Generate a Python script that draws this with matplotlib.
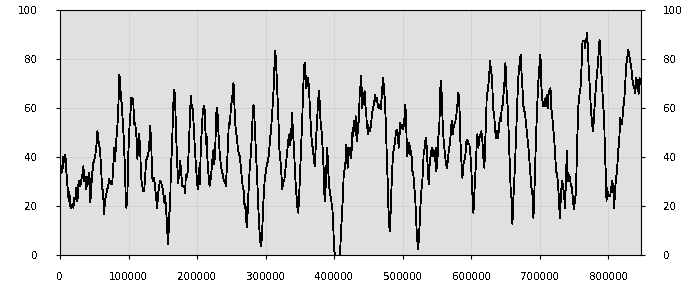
import matplotlib
matplotlib.use("Agg")
import matplotlib.pyplot as plt
import numpy as np

# sample positions (in thousands) and values
x_k = [
    0.0, 1.5, 3.5, 4.9, 6.4, 7.8, 9.3, 11.2, 12.7, 13.7, 14.7, 16.1, 18.1, 19.5,
    21.0, 22.4, 23.9, 25.4, 26.8, 28.3, 29.7, 31.2, 32.7, 34.1, 35.6, 37.0, 38.5,
    40.0, 41.4, 42.9, 44.3, 45.8, 47.3, 48.7, 50.2, 51.6, 53.1, 54.6, 55.5, 57.0,
    58.5, 59.9, 61.4, 62.8, 64.3, 65.8, 67.2, 68.7, 70.1, 71.6, 73.1, 74.5, 76.0,
    77.4, 78.9, 80.4, 81.8, 83.3, 84.7, 85.7, 86.7, 87.7, 88.6, 90.1, 91.5, 93.0,
    94.5, 95.9, 96.9, 98.4, 99.8, 101.3,
    104.2, 105.7, 107.1, 108.1, 109.5, 111.0, 112.0, 113.0, 113.9, 115.4, 116.9,
    118.3, 119.8, 121.2, 122.7, 124.2, 125.6, 127.1, 128.5, 130.0, 131.5, 132.4,
    133.4, 134.4, 135.8, 137.3, 138.8, 140.2, 141.7, 143.1, 144.6, 146.1, 147.5,
    149.0, 150.4, 151.9, 153.4, 154.8, 156.3, 157.2, 158.2, 159.2, 160.7, 161.6,
    163.1, 164.1, 165.0, 166.5, 167.5, 168.4, 169.4, 170.9, 172.3, 173.8, 175.3,
    176.7, 178.2, 179.6, 181.1, 182.6, 183.5, 185.0, 186.4, 187.9, 189.4, 190.8,
    191.8, 192.8, 194.2, 195.7, 197.2, 198.6, 200.1, 201.5, 202.5, 204.0, 205.4,
    208.3, 209.8, 211.3, 212.7, 213.7, 215.2, 216.6, 218.1, 219.5, 221.0, 222.5,
    223.9, 224.9, 226.4, 227.8, 229.3, 230.2, 231.7, 233.2, 234.6, 236.1, 237.5,
    239.0, 240.5, 241.9, 243.4, 244.8, 246.3, 247.8, 249.2, 250.7, 252.1, 253.1,
    254.1, 255.1, 256.5, 258.0, 259.4, 260.9, 262.4, 263.8, 265.3, 266.7, 268.2,
    269.2, 270.6, 272.1, 273.1, 274.0, 275.5, 277.0, 278.4, 279.9, 281.3, 282.3,
    283.3, 284.3, 285.7, 287.2, 288.6, 290.1, 291.6, 293.0, 294.5, 295.9, 297.4,
    298.9, 300.3, 301.8, 303.2, 304.7, 306.2, 307.6, 309.1, 310.5,
    312.0, 313.5, 314.9, 316.4, 317.8, 318.8, 319.8, 321.2, 322.7, 324.2, 325.6,
    327.1, 328.5, 330.0, 331.5, 332.9, 334.4, 335.8, 337.3, 338.3, 339.3, 340.2,
    341.7, 343.2, 344.6, 346.1, 347.5, 349.0, 350.5, 351.9, 353.4, 354.8, 356.3,
    357.3, 358.2, 359.2, 360.7, 362.1, 363.1, 364.6, 366.0, 367.5, 368.9, 370.4,
    371.9, 373.3, 374.8, 376.2, 377.7, 378.7, 380.1, 381.6, 383.1, 384.5, 386.0,
    387.4, 388.9, 389.9, 391.3, 392.8, 394.3, 395.7, 397.2, 398.6, 399.6, 401.1,
    402.5, 406.9, 408.4, 409.3, 410.8, 412.3, 413.7, 415.2, 416.6,
    417.1, 418.6, 419.6, 420.5, 421.5, 422.5, 423.4, 424.9, 425.9, 426.9, 427.8,
    428.8, 430.3, 431.2, 432.2, 433.7, 434.6, 436.1, 437.1, 438.1, 439.0, 440.0,
    441.0, 441.9, 443.4, 444.4, 445.4, 446.8, 447.8, 448.8, 449.7, 450.7, 452.2,
    453.6, 455.1, 456.5, 458.0, 459.5, 460.4, 461.9, 463.4, 464.8, 466.3, 467.7,
    469.2, 470.2, 471.1, 472.1, 473.6, 475.0, 476.0, 477.0, 478.0, 478.9, 479.9,
    480.9, 481.9, 482.8, 484.3, 485.7, 487.2, 488.7, 490.1, 491.6, 493.0, 494.0,
    495.0, 496.0, 497.4, 498.9, 500.3, 501.8, 502.8, 503.8, 504.7, 505.7, 506.7,
    508.1, 509.6, 511.1, 512.5, 514.0, 515.4, 516.9, 518.4, 519.3, 520.8, 521.8,
    522.2, 523.7, 525.2, 526.6, 528.1, 529.5, 530.5, 532.0, 533.4, 534.4, 535.9,
    536.8, 537.8, 538.8, 540.2, 541.7, 543.2, 544.6, 545.6, 546.6, 548.0, 549.0,
    550.5, 551.9, 553.4, 554.9, 555.8, 556.8, 558.3, 559.7, 561.2, 562.6, 564.1,
    565.6, 567.0, 568.5, 569.9, 571.4, 572.9, 573.8, 575.3, 576.8, 578.2, 579.7,
    581.1, 582.1, 583.1, 584.1, 585.0, 586.0, 587.0, 588.4, 589.9, 591.4, 592.8,
    594.3, 595.7, 597.2, 598.7, 600.1, 601.6, 603.0, 604.0, 605.0, 606.4, 607.9,
    608.9, 610.3, 611.8, 613.3, 614.7, 616.2, 617.6, 619.1, 620.1, 621.5, 622.5,
    624.0, 625.4, 626.4,
    627.4, 628.8, 630.3, 631.7, 633.2, 634.7, 635.6, 637.1, 638.6, 640.0, 641.5,
    642.9, 644.4, 645.9, 647.3, 648.8, 649.8, 650.7, 651.7, 653.2, 654.6, 656.1,
    657.5, 659.0, 660.0, 660.9, 662.4, 663.9, 665.3, 666.8, 668.2, 669.7, 671.2,
    672.1, 673.1, 674.6, 676.0, 677.5, 679.0, 680.4, 681.9, 683.3, 684.8, 686.3,
    687.7, 689.2, 690.6, 691.6, 693.1, 694.5, 696.0, 697.4, 698.9, 700.4, 701.3,
    702.3, 703.8, 705.2, 706.7, 708.2, 709.1, 710.1, 711.6, 713.0, 714.5, 715.5,
    716.4, 717.9, 719.3, 720.8, 722.3, 723.7, 725.2, 726.6, 728.1, 729.1, 730.1,
    731.5,
    732.5, 733.9, 735.4, 736.4, 737.3, 738.3, 739.3, 740.3, 741.2, 742.2, 743.7,
    745.1, 746.6, 748.1, 749.5, 751.0, 752.4, 753.4, 754.4, 755.4, 756.3, 757.8,
    759.3, 760.7, 762.2, 763.6, 765.1, 766.1, 767.0, 768.0, 769.0, 770.0, 771.4,
    772.9, 774.3, 775.8, 777.3, 778.7, 780.2, 781.6, 783.1, 784.6, 786.0, 787.0,
    788.0, 789.4, 790.9, 792.3, 793.8, 794.8, 796.2, 797.2, 798.2, 799.6, 801.1,
    802.6, 804.0, 805.5, 806.9, 808.4, 809.9, 811.3, 812.8, 814.2, 815.7, 817.2,
    818.6, 820.1, 821.5, 823.0, 824.5, 825.9, 827.4, 828.8, 830.3, 831.8, 833.2,
    834.7, 836.1, 837.6, 839.1, 840.5, 841.5, 843.0, 843.9, 845.4, 846.4,
]
values = [
    29.5, 36.3, 34, 40, 38, 41, 34, 27.5, 22, 26, 20, 19.3, 20.7, 19.3,
    23.4, 22.7, 27.5, 22, 28.8, 30.2, 28.2, 30.9, 33, 36.3, 30.2, 32, 26.8,
    32, 28.8, 33.6, 21.4, 28.8, 34, 37.7, 39, 41, 44.5, 50.6, 47.9, 45,
    42.4, 35.6, 27.5, 26, 16.6, 22.7, 24, 26.8, 27.5, 30.9, 30.2, 28.8, 28.8,
    34, 43.8, 38.4, 45.9, 50.6, 57.4, 65.6, 73.7, 71, 65.6, 61.5, 54.7, 47.9,
    37, 23.4, 19.3, 25.4, 42.4, 52,
    64.2, 64.2, 61.5, 53.3, 54, 50.6, 46.5, 39, 46.5, 49.3, 43.8,
    31.6, 28.8, 26, 26, 31.6, 38.4, 39.7, 41, 43.8, 52.7, 49.3,
    42.4, 31.6, 30.2, 31.6, 27.5, 23.4, 19.3, 24.8, 28.2, 30.2, 29.5,
    28.2, 26, 21.4, 24, 18, 12.5, 4.4, 7.1, 16.6, 19.3, 34.3,
    42.4, 50.6, 60.1, 67.6, 65.6, 58.8, 49.3, 38.4, 29.5, 32.9, 38.4,
    34.3, 28.2, 28.2, 28.2, 25.4, 32.9, 31.6, 34.3, 43.8, 54.7, 64.9,
    60.1, 61.5, 57.4, 49.3, 41, 35.6, 28.8, 26.8, 35.6, 28.8, 43.8,
    58.8, 60.8, 58.8, 45.2, 49.3, 38.4, 32.9, 28.2, 30.2, 34.3, 39.7,
    43.1, 37, 42.4, 57.4, 60.1, 55.9, 46.5, 41, 37, 34.3, 32.9,
    30.2, 30.2, 28.2, 35.6, 43.8, 54, 53.3, 60.1, 62.9, 66.9, 70.3,
    64.2, 56, 50.6, 47.9, 43.8, 41, 40.4, 35.6, 31.6, 27.5, 26,
    19.3, 20.7, 12.5, 11.2, 20.7, 28.2, 37, 41, 49.3, 58.8, 61.5,
    57.4, 52, 42.4, 34.3, 24.8, 13.9, 7.1, 3.7, 7.1, 16.6, 26,
    31.6, 34.3, 37, 38.4, 41, 46.5, 50.6, 56, 62.9,
    69.7, 83.3, 80.5, 71, 61.5, 54, 43.8, 39.7, 34.3, 26.8, 30.2,
    30.2, 34.3, 38.4, 42.4, 46.5, 49.3, 45, 49.3, 58.1, 53.3, 49.3,
    41, 31.6, 26, 20, 17.3, 24.8, 35.6, 46.5, 56, 68.3, 77.8,
    78.5, 73.7, 68.3, 70.3, 72.4, 68.3, 60.1, 52, 45.2, 43.8, 38.4,
    36.3, 46.5, 53.3, 61.5, 66.9, 62.9, 54.7, 50.6, 43.8, 35.6, 22,
    27.5, 38.4, 43.8, 34.3, 27.5, 24.8, 22, 19.3, 12.5, 3, 0,
    -2, -2, 0.3, 5.7, 13.9, 22, 31.6, 35, 38.4,
    45.2, 41, 35.6, 43.8, 41, 43.8, 42.4, 39.7, 46.5, 52, 48.6,
    54.7, 50.6, 56.7, 49.3, 46.5, 53.3, 54.7, 65.6, 68.3, 73.1, 68.3,
    60.1, 62.9, 65.6, 66.9, 61.5, 57.4, 52, 53.3, 49.3, 52, 50.6,
    53.3, 57.4, 60.1, 61.5, 65.6, 62.9, 64.2, 61.5, 60.1, 61.5, 59.5,
    64.2, 68.3, 72.4, 69.7, 64.2, 56, 46.5, 37.7, 30.2, 20.7, 13.9,
    9.8, 13.9, 22, 32.9, 41, 43.8, 46.5, 50.6, 51.3, 49.3, 43.8,
    46.5, 54, 52, 53.3, 51.3, 53.3, 57.4, 61.5, 56, 46.5, 40.4,
    45.2, 45.9, 41, 42.4, 34.3, 32.9, 27.5, 22, 15.2, 7.1, 4.4,
    2.3, 7.1, 16.6, 24.8, 28.8, 34.3, 41.8, 43.8, 47.9, 46.5, 38.4,
    32.9, 28.8, 35.6, 39.7, 42.4, 43.8, 40.4, 42.4, 38.4, 43.8, 34.3,
    38.4, 47.9, 53.3, 68.3, 71, 65.6, 53.3, 46.5, 42.4, 38.4, 35.6,
    38.4, 42.4, 45.2, 49.3, 54.7, 49.3, 52, 53.3, 54.7, 57.4, 61.5,
    66.3, 64.2, 57.4, 46.5, 41, 35.6, 31.6, 37, 38.4, 41, 46.5,
    47.2, 45.2, 45.2, 41, 34.3, 24.8, 17.3, 22, 28.8, 35.6, 45.2,
    49.3, 43.8, 47.9, 49.3, 50.6, 46.5, 39.7, 35.6, 45.2, 54.7, 65.6,
    66.9, 71, 75.1,
    79.2, 75.1, 72.4, 60.1, 57.4, 52, 47.9, 50.6, 47.9, 50.6, 56,
    54.7, 60.1, 61.5, 66.9, 72.4, 78.5, 72.4, 65.6, 60.1, 49.3, 38.4,
    26, 22, 12.5, 20.7, 28.8, 38.4, 49.3, 60.1, 71, 76.2, 80.5,
    81.9, 75.1, 68.3, 60.8, 58.8, 56, 52, 47.9, 43.8, 38.4, 32.9,
    27.5, 24.8, 15.2, 22, 35.6, 49.3, 60.1, 69.7, 75.1, 81.9, 79.2,
    68.3, 62.9, 60.8, 60.8, 64.2, 60.8, 65.6, 60.1, 66.9, 65.6, 68.3,
    60.1, 57.4, 52, 47.9, 41, 34.3, 32.9, 28.8, 20.7, 15.2, 20.7,
    27.5,
    30.2, 27.5, 24.8, 19.3, 24.8, 32.9, 42.4, 34.3, 30.2, 32.9, 31.6,
    28.8, 27.5, 23.4, 18.6, 22, 24.8, 34.3, 46.5, 54.7, 61.5, 65.6,
    68.3, 76.2, 87.3, 87.3, 87.3, 84.6, 88, 88.7, 90.7, 84.6, 75.1,
    68.3, 60.1, 54.7, 50.6, 54.7, 62.9, 68.3, 73.7, 77.8, 83.3, 88,
    84.6, 76.2, 68.3, 61.5, 56, 42.4, 32.9, 22, 27.5, 24, 24,
    24, 27.5, 30.2, 27.5, 19.3, 27.5, 31.6, 35.6, 42.4, 46.5, 56,
    53.3, 54, 60.1, 62.9, 69.7, 77.8, 80.5, 84, 81.9, 79.2, 77.1,
    72.4, 69.7, 68.3, 66.3, 72.4, 68.3, 71.7, 65.6, 72.4, 70,
]

x_ticks = [0, 100000, 200000, 300000, 400000, 500000, 600000, 700000, 800000]
y_ticks = [0, 20, 40, 60, 80, 100]

plt.rcParams["text.antialiased"] = False

xs = np.array(x_k) * 1000

fig = plt.figure(figsize=(7, 3), dpi=100)
ax = fig.add_axes([0.0857, 0.15, 0.83, 0.8157])
ax.set_facecolor("#e0e0e0")

ax.plot(xs, values, color="black", linewidth=0.6, antialiased=False)

ax.set_xlim(0, 847500)
ax.set_ylim(0, 100)
ax.set_xticks(x_ticks)
ax.set_xticklabels([str(t) for t in x_ticks])
ax.set_yticks(y_ticks)

ax.grid(True, color="#d2d2d2", linewidth=0.72)
ax.set_axisbelow(True)

for side in ["top", "left", "right", "bottom"]:
    ax.spines[side].set_linewidth(0.8)
    ax.spines[side].set_color("black")

ax.tick_params(axis="y", direction="out", length=3, width=0.8,
               left=True, right=True, labelleft=True, labelright=True,
               labelsize=7.5, pad=13)
ax.tick_params(axis="x", direction="out", length=3, width=0.8,
               labelsize=7.5, pad=9)

fig.savefig("out.png", dpi=100)
